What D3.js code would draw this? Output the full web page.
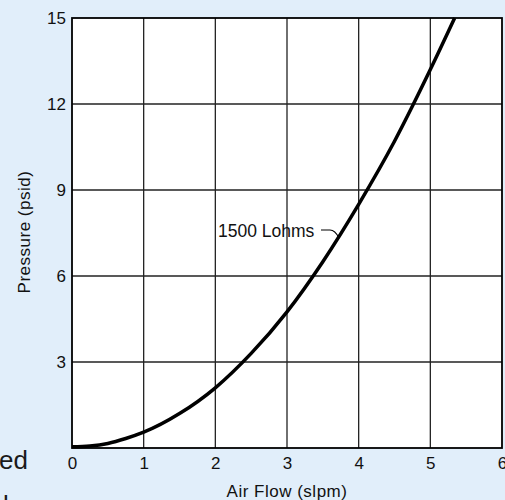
<!DOCTYPE html>
<html>
<head>
<meta charset="utf-8">
<script src="https://cdn.jsdelivr.net/npm/d3@7"></script>
<style>
  html, body { margin: 0; padding: 0; background: #e1eefa; }
  svg { display: block; font-family: "Liberation Sans", Arial, sans-serif; }
</style>
</head>
<body>
<div id="plot"></div>
<script>
// Values.
var flow = [0, 0.25, 0.5, 0.75, 1, 1.5, 2, 2.5, 3, 3.5, 4, 4.5, 5, 5.34];
var pressure = [0.04, 0.07, 0.16, 0.33, 0.55, 1.2, 2.1, 3.3, 4.75, 6.5, 8.5, 10.7, 13.2, 15];
var x_ticks = [0, 1, 2, 3, 4, 5, 6];
var y_ticks = [3, 6, 9, 12, 15];
var curve_label = "1500 Lohms";

var width = 505, height = 500;
var m_left = 72, m_right = 502, m_top = 18, m_bottom = 448;

var svg = d3.select("div#plot").append("svg")
    .attr("width", width)
    .attr("height", height);

var x_scale = d3.scaleLinear().domain([0, 6]).range([m_left, m_right]);
var y_scale = d3.scaleLinear().domain([0, 15]).range([m_bottom, m_top]);

// Plot background.
svg.append("rect")
    .attr("x", m_left).attr("y", m_top)
    .attr("width", m_right - m_left).attr("height", m_bottom - m_top)
    .style("fill", "white");

// Grid lines.
var g_grid = svg.append("g").attr("id", "grid");
g_grid.selectAll("line.v")
    .data(x_ticks.slice(1, -1))
    .join("line")
        .attr("class", "v")
        .attr("x1", d => x_scale(d)).attr("x2", d => x_scale(d))
        .attr("y1", m_top).attr("y2", m_bottom)
        .style("stroke", "#222").style("stroke-width", 1.3);
g_grid.selectAll("line.h")
    .data(y_ticks.slice(0, -1))
    .join("line")
        .attr("class", "h")
        .attr("x1", m_left).attr("x2", m_right)
        .attr("y1", d => y_scale(d)).attr("y2", d => y_scale(d))
        .style("stroke", "#222").style("stroke-width", 1.3);

// Frame.
svg.append("rect")
    .attr("x", m_left).attr("y", m_top)
    .attr("width", m_right - m_left).attr("height", m_bottom - m_top)
    .style("fill", "none").style("stroke", "black").style("stroke-width", 1.8);

// Axes (labels only, the frame is drawn above).
var x_axis = d3.axisBottom(x_scale).tickValues(x_ticks)
    .tickFormat(d3.format("d")).tickSize(0).tickPadding(9);
svg.append("g")
    .attr("id", "x_axis")
    .attr("transform", "translate(0," + m_bottom + ")")
    .call(x_axis)
    .call(g => g.select(".domain").remove())
    .selectAll("text")
        .style("font-size", "17px").style("font-family", "Liberation Sans, Arial, sans-serif")
        .attr("fill", "#111");

var y_axis = d3.axisLeft(y_scale).tickValues(y_ticks)
    .tickFormat(d3.format("d")).tickSize(0).tickPadding(6);
svg.append("g")
    .attr("id", "y_axis")
    .attr("transform", "translate(" + m_left + ",0)")
    .call(y_axis)
    .call(g => g.select(".domain").remove())
    .selectAll("text")
        .style("font-size", "17px").style("font-family", "Liberation Sans, Arial, sans-serif")
        .attr("fill", "#111");

// Axis titles.
svg.append("text")
    .attr("x", 287).attr("y", 497)
    .attr("text-anchor", "middle")
    .style("font-size", "17px").style("letter-spacing", "0.5px").attr("fill", "#111")
    .text("Air Flow (slpm)");
svg.append("text")
    .attr("transform", "translate(30,232) rotate(-90)")
    .attr("text-anchor", "middle")
    .style("font-size", "17px").style("letter-spacing", "0.5px").attr("fill", "#111")
    .text("Pressure (psid)");

// Curve.
var line = d3.line()
    .x(d => x_scale(d[0]))
    .y(d => y_scale(d[1]))
    .curve(d3.curveMonotoneX);
svg.append("path")
    .datum(d3.zip(flow, pressure))
    .attr("d", line)
    .style("fill", "none").style("stroke", "black").style("stroke-width", 3.5);

// Curve label with leader.
svg.append("text")
    .attr("x", 218).attr("y", 237)
    .style("font-size", "17.5px").attr("fill", "#111")
    .text(curve_label);
svg.append("path")
    .attr("d", "M321,230 L330,230 Q335,230 339,238")
    .style("fill", "none").style("stroke", "black").style("stroke-width", 1.2);

// Fragments of surrounding page text.
svg.append("text")
    .attr("x", 28).attr("y", 469)
    .attr("text-anchor", "end")
    .style("font-size", "26px").attr("fill", "#1a1a1a")
    .text("ed");
svg.append("text")
    .attr("x", 3).attr("y", 514)
    .style("font-size", "26px").attr("fill", "#1a1a1a")
    .text("ly");
</script>
</body>
</html>
